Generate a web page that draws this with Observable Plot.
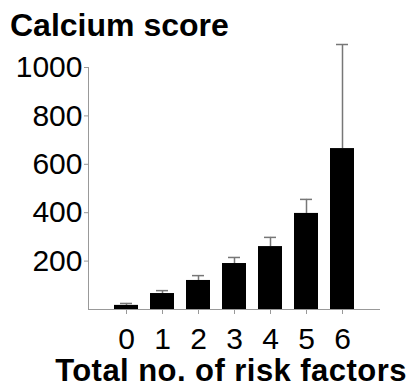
<!DOCTYPE html>
<html>
<head>
<meta charset="utf-8">
<script src="https://cdn.jsdelivr.net/npm/d3@7"></script>
<script src="https://cdn.jsdelivr.net/npm/@observablehq/plot@0.6"></script>
<style>
  body { margin: 0; background: #fff; }
  #wrap { position: relative; width: 412px; height: 389px; overflow: hidden; font-family: "Liberation Sans", Arial, sans-serif; }
  .lbl { position: absolute; font-weight: bold; font-size: 32px; line-height: 26px; color: #000; white-space: nowrap; }
  #title { left: 10px; top: 12px; }
  #xlabel { left: 231px; top: 359px; font-size: 31px; letter-spacing: 0.45px; line-height: 24px; transform: translateX(-50%); }
</style>
</head>
<body>
<div id="wrap">
  <div id="chart"></div>
  <div id="title" class="lbl">Calcium score</div>
  <div id="xlabel" class="lbl">Total no. of risk factors</div>
</div>
<script>
const categories = ["0", "1", "2", "3", "4", "5", "6"];
const means = [17, 66, 120, 190, 260, 397, 665];
const errors = [8, 12, 20, 25, 38, 58, 430];
const yTicks = [200, 400, 600, 800, 1000];

const data = categories.map((c, i) => ({cat: c, mean: means[i], upper: means[i] + errors[i]}));

const chart = Plot.plot({
  width: 412,
  height: 389,
  marginLeft: 88,
  marginRight: 32,
  marginTop: 67,
  marginBottom: 80,
  style: {fontFamily: "Liberation Sans, Arial, sans-serif", fontSize: "30px", color: "#000", background: "#fff"},
  x: {domain: categories, paddingInner: 0.34, paddingOuter: 0.69, label: null},
  y: {domain: [0, 1000], label: null},
  marks: [
    Plot.ruleX(data, {x: "cat", y1: "mean", y2: "upper", stroke: "#777", strokeWidth: 1.5}),
    Plot.tickY(data, {x: "cat", y: "upper", stroke: "#777", strokeWidth: 1.5, inset: 6}),
    Plot.barY(data, {x: "cat", y: "mean", fill: "#000"}),
    Plot.frame({anchor: "left", stroke: "#999"}),
    Plot.ruleY([0], {stroke: "#999"}),
    Plot.axisY({ticks: yTicks, tickFormat: d => String(d), tickSize: 4, tickPadding: 2, stroke: "#999", fill: "#000", fontSize: 30, label: null}),
    Plot.axisX({tickSize: 5, tickPadding: 13, stroke: "#999", fill: "#000", fontSize: 30, label: null})
  ]
});
document.getElementById("chart").appendChild(chart);
</script>
</body>
</html>
